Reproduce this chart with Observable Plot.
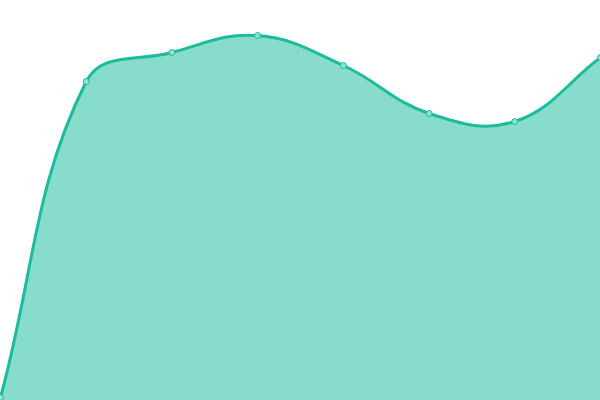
<!DOCTYPE html>
<html>
<head>
<meta charset="utf-8">
<script src="https://cdn.jsdelivr.net/npm/d3@7"></script>
<script src="https://cdn.jsdelivr.net/npm/@observablehq/plot@0.6"></script>
<style>
  html, body { margin: 0; padding: 0; background: #fff; overflow: hidden; }
  #chart svg { display: block; }
</style>
</head>
<body>
<div id="chart"></div>
<script>
const xIndex = [0, 1, 2, 3, 4, 5, 6, 7];
const values = [3, 319, 348, 365, 335, 287, 279, 343];

const data = xIndex.map((x, i) => ({ x, y: values[i] }));

// Tension-based spline (distance-weighted control points), capped to the plot area
function splineCurve(tension, W, H) {
  return function (context) {
    let pts, line;
    function flush() {
      const n = pts.length;
      if (!n) return;
      if (line) context.lineTo(pts[0][0], pts[0][1]); else context.moveTo(pts[0][0], pts[0][1]);
      if (n === 1) return;
      const cp = pts.map((c, i) => {
        const p = pts[Math.max(i - 1, 0)], nx = pts[Math.min(i + 1, n - 1)];
        const d01 = Math.hypot(c[0] - p[0], c[1] - p[1]);
        const d12 = Math.hypot(nx[0] - c[0], nx[1] - c[1]);
        let s01 = d01 / (d01 + d12), s12 = d12 / (d01 + d12);
        if (isNaN(s01)) s01 = 0; if (isNaN(s12)) s12 = 0;
        const fa = tension * s01, fb = tension * s12;
        const clamp = (v, lo, hi) => Math.max(lo, Math.min(hi, v));
        return {
          prev: [clamp(c[0] - fa * (nx[0] - p[0]), 0, W), clamp(c[1] - fa * (nx[1] - p[1]), 0, H)],
          next: [clamp(c[0] + fb * (nx[0] - p[0]), 0, W), clamp(c[1] + fb * (nx[1] - p[1]), 0, H)]
        };
      });
      for (let i = 1; i < n; i++) {
        context.bezierCurveTo(cp[i - 1].next[0], cp[i - 1].next[1], cp[i].prev[0], cp[i].prev[1], pts[i][0], pts[i][1]);
      }
    }
    return {
      areaStart() { line = 0; },
      areaEnd() { line = NaN; },
      lineStart() { pts = []; },
      lineEnd() {
        flush();
        if (line || (line !== 0 && pts.length === 1)) context.closePath();
        line = 1 - line;
      },
      point(x, y) { pts.push([+x, +y]); }
    };
  };
}

const curve = splineCurve(0.4, 600, 400);

const chart = Plot.plot({
  width: 600,
  height: 400,
  margin: 0,
  x: { domain: [0, 7], range: [0, 600], axis: null },
  y: { domain: [0, 400], range: [400, 0], axis: null },
  marks: [
    Plot.areaY(data, { x: "x", y: "y", fill: "#1abc9c", fillOpacity: 0.52, curve }),
    Plot.lineY(data, { x: "x", y: "y", stroke: "#1abc9c", strokeWidth: 3, curve }),
    Plot.dot(data, { x: "x", y: "y", r: 3, fill: "#8ee2d0", stroke: "#1abc9c", strokeWidth: 1 })
  ]
});
document.getElementById("chart").appendChild(chart);
</script>
</body>
</html>
